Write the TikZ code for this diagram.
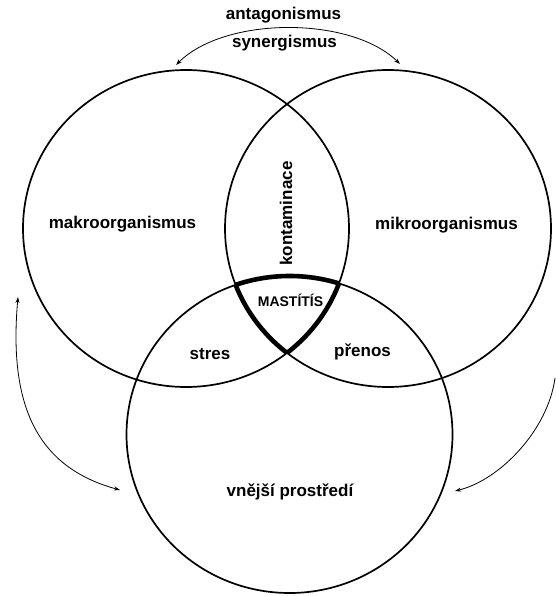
\documentclass[tikz,border=0pt]{standalone}
\usepackage{fontspec}
\setmainfont{Liberation Sans}
\usetikzlibrary{arrows.meta}
\tikzset{
  blob/.style={x radius=163pt, y radius=158.5pt},
  ring/.style={blob, line width=1.7pt},
  core/.style={blob, line width=4.6pt},
  rel/.style={line width=0.8pt},
  both/.style={rel, {Stealth[length=6pt,width=4pt]}-{Stealth[length=6pt,width=4pt]}},
  one/.style={rel, -{Stealth[length=6pt,width=4pt]}},
  lbl/.style={inner sep=0pt, font=\bfseries\fontsize{17}{20}\selectfont}
}
\begin{document}
\begin{tikzpicture}[x=1pt,y=-1pt]
\useasboundingbox (0,0) rectangle (555,596);
% the three circles
\coordinate (makroC) at (186,228.5);
\coordinate (mikroC) at (388,228.5);
\coordinate (okoliC) at (289.5,434.5);
\draw[ring] (makroC) ellipse;
\draw[ring] (mikroC) ellipse;
\draw[ring] (okoliC) ellipse;
% thick border of the common part
\begin{scope}
\clip[blob] (mikroC) ellipse; \clip[blob] (okoliC) ellipse;
\draw[core] (makroC) ellipse;
\end{scope}
\begin{scope}
\clip[blob] (makroC) ellipse; \clip[blob] (okoliC) ellipse;
\draw[core] (mikroC) ellipse;
\end{scope}
\begin{scope}
\clip[blob] (makroC) ellipse; \clip[blob] (mikroC) ellipse;
\draw[core] (okoliC) ellipse;
\end{scope}
% labels
\node[lbl] (antag) at (283.5,15) {antagonismus};
\node[lbl] (syner) at (284.5,43.5) {synergismus};
\node[lbl] (makro) at (122.5,224) {makroorganismus};
\node[lbl] (mikro) at (446.5,225) {mikroorganismus};
\node[lbl, rotate=90] (konta) at (286,213.5) {kontaminace};
\node[lbl, font=\bfseries\fontsize{14}{16}\selectfont] (mast) at (290.5,300) {MASTÍTÍS};
\node[lbl] (stres) at (210,354) {stres};
\node[lbl] (prenos) at (362.5,352) {přenos};
\node[lbl] (okoli) at (290,491.5) {vnější prostředí};
% arrows
\coordinate (topL) at (176,65);
\coordinate (topR) at (400,64);
\draw[both] (topL) .. controls (225,16) and (351,16) .. (topR);
\coordinate (levT) at (18,297);
\coordinate (levB) at (120,490);
\draw[both] (levT) .. controls (8,410) and (40,468) .. (levB);
\coordinate (pravT) at (555,378);
\coordinate (pravB) at (455,491);
\draw[one] (pravT) .. controls (548,430) and (500,480) .. (pravB);
\end{tikzpicture}
\end{document}
